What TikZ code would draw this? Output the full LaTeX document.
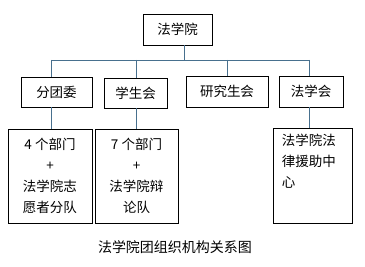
\documentclass[tikz,border=0pt]{standalone}
\usepackage{fontspec}
\setmainfont{Noto Sans CJK SC}
\definecolor{linkblue}{RGB}{72,112,142}
\tikzset{
  orgbox/.style={draw=black, line width=0.8pt, inner sep=0pt, align=center,
    font=\fontsize{13.5}{21}\selectfont},
  link/.style={draw=linkblue, line width=0.9pt}
}
\begin{document}
\begin{tikzpicture}[x=1pt,y=-1pt]
  \useasboundingbox (0,0) rectangle (365,267);
  % top level
  \node[orgbox, minimum width=69, minimum height=31] (fxy) at (177.5,29.5) {法学院};
  % second level
  \node[orgbox, minimum width=71, minimum height=30] (ftw) at (56.5,92) {分团委};
  \node[orgbox, minimum width=63, minimum height=30] (xsh) at (135.5,93) {学生会};
  \node[orgbox, minimum width=82, minimum height=31] (yjs) at (227,91.5) {研究生会};
  \node[orgbox, minimum width=64, minimum height=31] (fxh) at (311,91.5) {法学会};
  % third level
  \node[orgbox, minimum width=84, minimum height=94] (ftwsub) at (50,176)
    {4 个部门\\+\\法学院志\\愿者分队};
  \node[orgbox, minimum width=83, minimum height=94] (xshsub) at (136.5,176)
    {7 个部门\\+\\法学院辩\\论队};
  \node[orgbox, minimum width=79, minimum height=95] (fxhsub) at (312.5,175.5) {};
  \node[anchor=north west, align=left, inner sep=0pt, font=\fontsize{13.5}{21}\selectfont]
    (fxhtext) at ([xshift=9,yshift=-6]fxhsub.north west) {法学院法\\律援助中\\心};
  % connectors
  \coordinate (b0) at (184,60); \coordinate (b1) at (51,60);
  \coordinate (b2) at (136,60); \coordinate (b3) at (227,60);
  \coordinate (b4) at (309,60);
  \draw[link] (b0 |- fxy.south) -- (b0);
  \draw[link] (b1) -- (b4);
  \draw[link] (b1) -- (b1 |- ftw.north);
  \draw[link] (b2) -- (b2 |- xsh.north);
  \draw[link] (b3) -- (b3 |- yjs.north);
  \draw[link] (b4) -- (b4 |- fxh.north);
  \draw[link] (b1 |- ftw.south) -- (b1 |- ftwsub.north);
  \draw[link] (b2 |- xsh.south) -- (b2 |- xshsub.north);
  \draw[link] (b4 |- fxh.south) -- (b4 |- fxhsub.north);
  % caption
  \node[font=\fontsize{14}{16}\selectfont] (caption) at (175,247) {法学院团组织机构关系图};
\end{tikzpicture}
\end{document}
